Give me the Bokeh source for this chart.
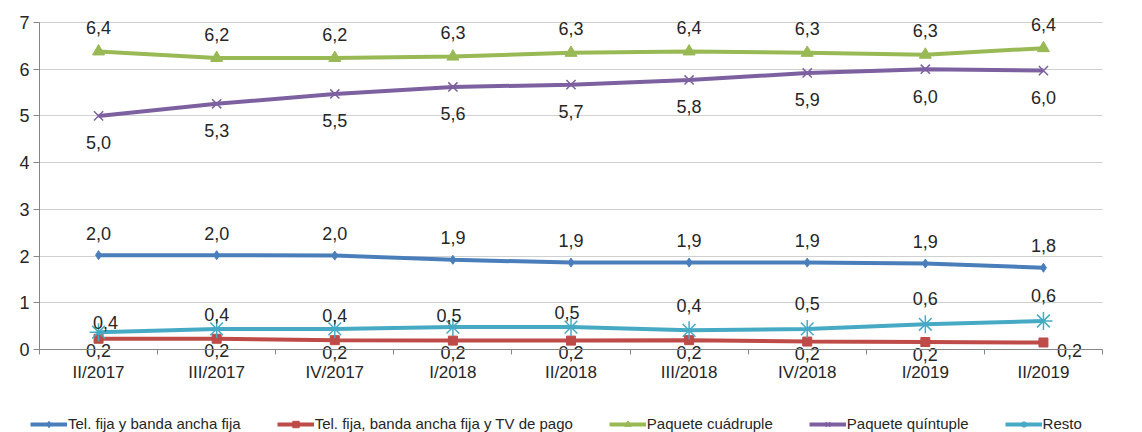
import numpy as np
from bokeh.plotting import figure
from bokeh.models import Range1d, FixedTicker, Legend, LegendItem, ColumnDataSource
from bokeh.core.properties import value
from bokeh.embed import file_html
from bokeh.resources import INLINE

categories = ["II/2017", "III/2017", "IV/2017", "I/2018", "II/2018", "III/2018", "IV/2018", "I/2019", "II/2019"]

tel_banda = [2.02, 2.02, 2.01, 1.92, 1.86, 1.86, 1.86, 1.84, 1.75]
tel_banda_lbl = ["2,0", "2,0", "2,0", "1,9", "1,9", "1,9", "1,9", "1,9", "1,8"]

tel_banda_tv = [0.23, 0.23, 0.20, 0.19, 0.19, 0.20, 0.17, 0.16, 0.15]
tel_banda_tv_lbl = ["0,2"] * 9

cuadruple = [6.38, 6.24, 6.24, 6.27, 6.35, 6.38, 6.35, 6.31, 6.45]
cuadruple_lbl = ["6,4", "6,2", "6,2", "6,3", "6,3", "6,4", "6,3", "6,3", "6,4"]

quintuple = [5.00, 5.26, 5.47, 5.62, 5.67, 5.77, 5.92, 6.00, 5.97]
quintuple_lbl = ["5,0", "5,3", "5,5", "5,6", "5,7", "5,8", "5,9", "6,0", "6,0"]

resto = [0.37, 0.44, 0.44, 0.48, 0.48, 0.41, 0.44, 0.54, 0.61]
resto_lbl = ["0,4", "0,4", "0,4", "0,5", "0,5", "0,4", "0,5", "0,6", "0,6"]

FONT = "Liberation Sans"
TXT = "#262626"
AX = "#868686"

W, H = 1142, 432
# plot-area placement (pixels) inside the figure
LEFT, RIGHT, TOP, BOTTOM = 39, 1102, 22, 349
n = len(categories)
YMAX = 7
ux = (RIGHT - LEFT) / n
uy = (BOTTOM - TOP) / YMAX

xs = list(np.arange(n) + 0.5)

p = figure(width=W, height=H, output_backend="svg", toolbar_location=None,
           x_range=Range1d(-LEFT / ux, n + (W - RIGHT) / ux),
           y_range=Range1d(-(H - BOTTOM) / uy, YMAX + TOP / uy),
           min_border_left=0, min_border_right=0, min_border_top=0, min_border_bottom=0)
p.outline_line_color = None
p.xgrid.grid_line_color = None
p.ygrid.grid_line_color = "#d0d0d0"
p.ygrid.grid_line_width = 1
p.ygrid.ticker = FixedTicker(ticks=list(range(0, YMAX + 1)))
if "cross_bounds" in p.ygrid[0].properties():
    p.ygrid.cross_bounds = (0, n)

p.yaxis.fixed_location = 0
p.yaxis.bounds = (0, YMAX)
p.yaxis.ticker = FixedTicker(ticks=list(range(0, YMAX + 1)))
p.yaxis.axis_line_color = AX
p.yaxis.major_tick_line_color = AX
p.yaxis.major_tick_out = 6
p.yaxis.major_tick_in = 0
p.yaxis.minor_tick_line_color = None
p.yaxis.major_label_standoff = 4
p.yaxis.major_label_text_font = FONT
p.yaxis.major_label_text_font_size = "18px"
p.yaxis.major_label_text_color = TXT

p.xaxis.fixed_location = 0
p.xaxis.bounds = (0, n)
p.xaxis.ticker = FixedTicker(ticks=xs, minor_ticks=list(range(n + 1)))
p.xaxis.major_label_overrides = {x: c for x, c in zip(xs, categories)}
p.xaxis.axis_line_color = AX
p.xaxis.major_tick_line_color = None
p.xaxis.major_tick_out = 0
p.xaxis.major_tick_in = 0
p.xaxis.minor_tick_line_color = AX
p.xaxis.minor_tick_out = 5
p.xaxis.minor_tick_in = 0
p.xaxis.major_label_standoff = 8
p.xaxis.major_label_text_font = FONT
p.xaxis.major_label_text_font_size = "17px"
p.xaxis.major_label_text_color = TXT

series = [
    ("Tel. fija y banda ancha fija", tel_banda, tel_banda_lbl, "#4A7EBB", "diamond", 9, 1),
    ("Tel. fija, banda ancha fija y TV de pago", tel_banda_tv, tel_banda_tv_lbl, "#BE4B48", "square", 9, 1),
    ("Paquete cuádruple", cuadruple, cuadruple_lbl, "#98B954", "triangle", 12, 1),
    ("Paquete quíntuple", quintuple, quintuple_lbl, "#7D60A0", "x", 13, 1.5),
    ("Resto", resto, resto_lbl, "#46AAC5", "asterisk", 18, 1.5),
]

items = []
for name, vals, lbls, color, marker, size, mlw in series:
    src = ColumnDataSource(dict(x=xs, y=vals))
    lr = p.line("x", "y", source=src, line_color=color, line_width=4)
    if marker in ("x", "asterisk"):
        mr = p.scatter("x", "y", source=src, marker=marker, size=size, line_color=color, line_width=mlw)
    else:
        mr = p.scatter("x", "y", source=src, marker=marker, size=size, fill_color=color, line_color=color)
    items.append(LegendItem(label=name, renderers=[lr, mr]))

# data labels (offsets in screen px)
label_offsets = {
    "Tel. fija y banda ancha fija": ([0] * 9, [-22] * 9),
    "Tel. fija, banda ancha fija y TV de pago": ([0] * 8 + [26], [12] * 8 + [8]),
    "Paquete cuádruple": ([0] * 9, [-24] * 9),
    "Paquete quíntuple": ([0] * 9, [27] * 9),
    "Resto": ([7, 0, 0, -4, -4, 0, 0, 0, 0], [-10, -14, -13, -12, -15, -25, -25, -26, -26]),
}
for name, vals, lbls, color, marker, size, mlw in series:
    xo, yo = label_offsets[name]
    src = ColumnDataSource(dict(x=xs, y=vals, t=lbls, xo=xo, yo=yo))
    p.text("x", "y", text="t", source=src, x_offset="xo", y_offset="yo",
           text_align="center", text_baseline="middle",
           text_font=value(FONT), text_font_size="18px", text_color=TXT)

legend = Legend(items=items, orientation="horizontal", location=(30, 0),
                label_text_font=FONT, label_text_font_size="15px", label_text_color=TXT,
                glyph_width=37, glyph_height=16, label_height=16, label_standoff=1,
                spacing=36, padding=0, margin=0,
                border_line_color=None, background_fill_alpha=0)
p.add_layout(legend)

open("out.html", "w").write(file_html(p, INLINE))
